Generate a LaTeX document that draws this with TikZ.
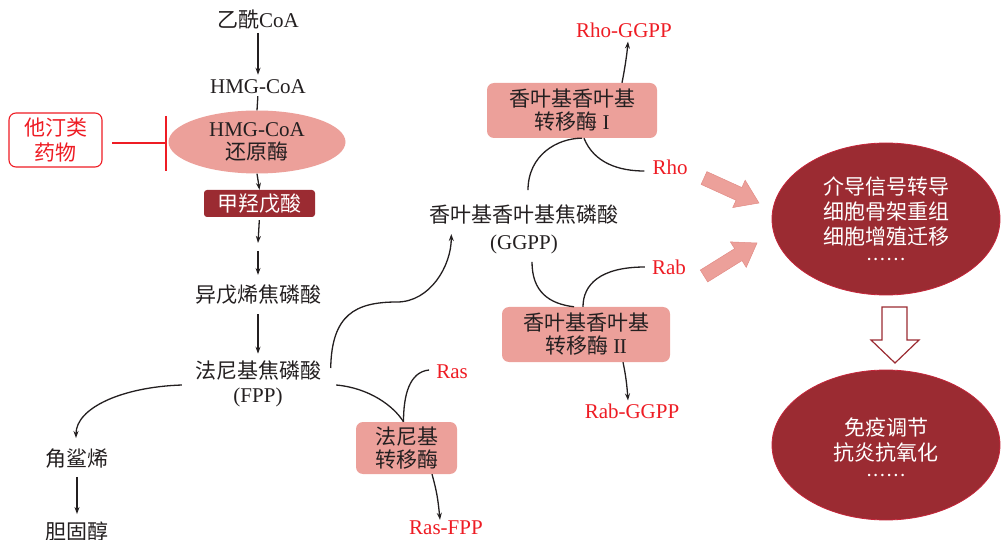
\documentclass[tikz,border=0pt]{standalone}
\usepackage{fontspec}
\setmainfont{Liberation Serif}
\newfontfamily\cjk{Noto Sans CJK SC}
\usetikzlibrary{shapes.geometric,arrows.meta,calc}
\definecolor{salmon}{RGB}{236,160,154}
\definecolor{salmonedge}{RGB}{226,140,134}
\definecolor{wine}{RGB}{155,43,50}
\definecolor{wineedge}{RGB}{196,38,58}
\definecolor{redtxt}{RGB}{238,28,36}
\definecolor{ink}{RGB}{35,31,32}
\newcommand\zhtxt[1]{{\cjk #1}}
\newcommand\sixdots{{\fontsize{15}{15}\selectfont\bfseries .\kern3pt.\kern3pt.\kern3pt.\kern3pt.\kern3pt.}}
\newcommand\blockarrow[2]{%
  \path[fill=salmon, draw=salmonedge, line width=0.5pt]
    ($(#1)!7pt!90:(#2)$) --
    ($($(#2)!22pt!(#1)$)!7pt!-90:(#1)$) --
    ($($(#2)!22pt!(#1)$)!15pt!-90:(#1)$) --
    (#2) --
    ($($(#2)!22pt!(#1)$)!15pt!90:(#1)$) --
    ($($(#2)!22pt!(#1)$)!7pt!90:(#1)$) --
    ($(#1)!7pt!-90:(#2)$) -- cycle;}
\begin{document}
\begin{tikzpicture}[x=1pt,y=-1pt,
  font=\fontsize{21}{24}\selectfont,
  txt/.style={text=ink, align=center, inner sep=0pt},
  rtxt/.style={text=redtxt, align=center, inner sep=0pt},
  enz/.style={fill=salmon, rounded corners=7pt, align=center, text=ink, inner sep=0pt},
  flow/.style={draw=ink, line width=1.3pt, -{Stealth[length=7pt,width=5pt]}},
  link/.style={draw=ink, line width=1.3pt},
  bigell/.style={ellipse, fill=wine, draw=wineedge, line width=0.8pt,
    inner sep=0pt},
  elltext/.style={text=white, align=center, inner sep=0pt, font=\fontsize{21}{25}\selectfont}]
\useasboundingbox (0,0) rectangle (1002,540);

% left column
\node[txt] (acoa) at (258,20) {\zhtxt{乙酰}CoA};
\node[txt] (hmg) at (258,87) {HMG-CoA};
\node[txt, ellipse, fill=salmon, minimum width=177pt, minimum height=63pt,
  font=\fontsize{21}{23}\selectfont] (hmgr) at (257,142) {HMG-CoA\\\zhtxt{还原酶}};
\node[rtxt, draw=redtxt, line width=1.1pt, rounded corners=7pt, minimum width=93pt,
  minimum height=54pt, font=\fontsize{21}{25}\selectfont] (statin) at (55.5,140) {\zhtxt{他汀类}\\\zhtxt{药物}};
\node[fill=wine, rounded corners=3pt, minimum width=111pt, minimum height=27pt,
  text=white, inner sep=0pt] (mva) at (259.5,203.5) {\zhtxt{甲羟戊酸}};
\coordinate (m1) at (258,243);
\coordinate (m2) at (258,251);
\node[txt] (ipp) at (258,295) {\zhtxt{异戊烯焦磷酸}};
\node[txt] (fpp) at (258,384) {\zhtxt{法尼基焦磷酸}\\(FPP)};
\node[txt] (sq) at (77,459) {\zhtxt{角鲨烯}};
\node[txt] (chol) at (77,531) {\zhtxt{胆固醇}};

% inhibition
\coordinate (inhs) at (112,143);
\coordinate (bar) at (166,143);
\draw[redtxt, line width=1.3pt] (inhs) -- (bar);
\draw[redtxt, line width=1.3pt] ($(bar)+(0,-27)$) -- ($(bar)+(0,28)$);

\draw[flow, shorten <=3pt, shorten >=5pt] (acoa.south) -- (hmg.north);
\draw[link, shorten <=2pt] (hmg.south) -- (hmgr.north);
\draw[flow] (hmgr.south) -- (mva.north);
\draw[flow, shorten <=3pt] (mva.south) -- (m1);
\draw[flow, shorten >=10pt] (m2) -- (ipp.north);
\draw[flow, shorten <=9pt, shorten >=7pt] (ipp.south) -- (fpp.north);
\draw[flow, shorten <=8pt, shorten >=7pt] (sq.south) -- (chol.north);
\draw[flow] ($(fpp.west)+(-13,1)$) .. controls +(-60,2) and +(0,-30) .. ($(sq.north)+(-1,-11)$);

% farnesyl branch
\node[rtxt] (ras) at (452,372) {Ras};
\node[enz, minimum width=101pt, minimum height=52pt, font=\fontsize{21}{23}\selectfont]
  (ftase) at (406.5,448) {\zhtxt{法尼基}\\\zhtxt{转移酶}};
\node[rtxt] (rasfpp) at (446,528) {Ras-FPP};
\draw[link] ($(fpp.east)+(15,1)$) .. controls +(33,3) and +(-10,-16) .. ($(ftase.north)+(-3,0)$);
\draw[link] ($(ras.west)+(-7,-2)$) .. controls +(-20,2) and +(0,-26) .. ($(ftase.north)+(-3,0)$);
\draw[flow] ($(ftase.south)+(25.5,0)$) .. controls +(5,18) and +(-2,-20) .. ($(rasfpp.north)+(-6,-1)$);

% GGPP
\node[txt, font=\fontsize{21}{27}\selectfont] (ggpp) at (524,229) {\zhtxt{香叶基香叶基焦磷酸}\\(GGPP)};
\draw[flow] ($(fpp.east)+(9.5,-16)$) .. controls +(1,-53) and +(-42,0) .. (397,302)
  .. controls +(33,0) and +(0,32) .. ($(ggpp.west)+(22,5)$);

\node[enz, minimum width=170pt, minimum height=55pt, font=\fontsize{21}{23}\selectfont]
  (gt1) at (572,110.5) {\zhtxt{香叶基香叶基}\\\zhtxt{转移酶} I};
\node[rtxt] (rhoggpp) at (624,30) {Rho-GGPP};
\node[rtxt] (rho) at (670,167) {Rho};
\draw[flow] ($(gt1.north)+(50,0)$) .. controls +(3,-15) and +(-1,12) .. ($(rhoggpp.south)+(4,4)$);
\draw[link] ($(ggpp.north)+(4,-14)$) .. controls +(0,-35) and +(-25,0) .. ($(gt1.south)+(10,0)$);
\draw[link] ($(gt1.south)+(12,0)$) .. controls +(10,25) and +(-25,0) .. ($(rho.west)+(-8,4)$);

\node[enz, minimum width=168pt, minimum height=55pt, font=\fontsize{21}{23}\selectfont]
  (gt2) at (586,334.5) {\zhtxt{香叶基香叶基}\\\zhtxt{转移酶} I\kern-0.6pt I};
\node[rtxt] (rab) at (669,267) {Rab};
\node[rtxt] (rabggpp) at (632,411) {Rab-GGPP};
\draw[link] ($(ggpp.south)+(8,8)$) .. controls +(0,30) and +(-25,-3) .. ($(gt2.north)+(-12,0)$);
\draw[link] ($(rab.west)+(-7,0)$) .. controls +(-45,0) and +(0,-22) .. ($(gt2.north)+(-3,0)$);
\draw[flow] ($(gt2.south)+(37,0)$) .. controls +(3,14) and +(-1,-14) .. ($(rabggpp.north)+(-4,-3)$);

% right side
\node[bigell, minimum width=228pt, minimum height=152pt,
  label={[elltext, yshift=0pt]center:{\zhtxt{介导信号转导}\\\zhtxt{细胞骨架重组}\\\zhtxt{细胞增殖迁移}\\[-9pt]\sixdots}}]
  (e1) at (886,219) {};
\node[bigell, minimum width=228pt, minimum height=150pt,
  label={[elltext, yshift=-1.75pt]center:{\zhtxt{免疫调节}\\\zhtxt{抗炎抗氧化}\\[-9pt]\sixdots}}]
  (e2) at (886,445) {};

\coordinate (p1t) at (704,178);
\coordinate (p1h) at (759,203);
\coordinate (p2t) at (704,276);
\coordinate (p2h) at (757,243);
\blockarrow{p1t}{p1h}
\blockarrow{p2t}{p2h}

\draw[wine, line width=1.2pt, fill=white, line join=miter]
  (882,307) -- (907,307) -- (907,340) -- (919,340) -- (895,363) -- (871,340) -- (882,340) -- cycle;
\end{tikzpicture}
\end{document}
